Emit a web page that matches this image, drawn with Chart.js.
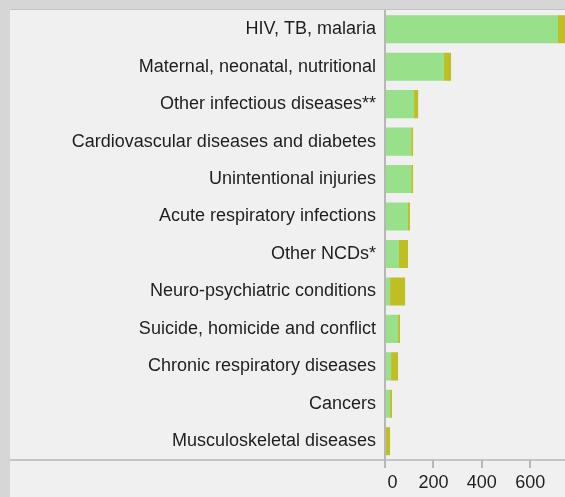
<!DOCTYPE html>
<html>
<head>
<meta charset="utf-8">
<script src="https://cdn.jsdelivr.net/npm/chart.js@4.4.1/dist/chart.umd.min.js"></script>
<style>
  html, body { margin: 0; padding: 0; width: 565px; height: 497px; overflow: hidden; background: #d6d6d6; }
  #panel { position: absolute; left: 10px; top: 9px; width: 640px; height: 500px; background: #f0f0f0; border-top: 1px solid #c4c4c4; }
  #chart { position: absolute; left: 0; top: 0; }
</style>
</head>
<body>
<div id="panel">
  <canvas id="chart" width="617" height="487"></canvas>
</div>
<script>
const categories = [
    "HIV, TB, malaria",
    "Maternal, neonatal, nutritional",
    "Other infectious diseases**",
    "Cardiovascular diseases and diabetes",
    "Unintentional injuries",
    "Acute respiratory infections",
    "Other NCDs*",
    "Neuro-psychiatric conditions",
    "Suicide, homicide and conflict",
    "Chronic respiratory diseases",
    "Cancers",
    "Musculoskeletal diseases"
];
// years of life lost (green) and years lived with disability (olive)
const yllValues = [715, 244, 120, 108, 108, 95, 58, 21, 54, 25, 21, 0];
const yldValues = [55, 29, 17, 8, 8, 8, 37, 62, 8, 29, 8, 21];
const xTicks = [0, 200, 400, 600];

const axisColor = "#b7b7b7";
const textColor = "#1e1e1e";
const fontFamily = "'Liberation Sans', Arial, sans-serif";

document.addEventListener("DOMContentLoaded", function () {
    const ctx = document.getElementById("chart").getContext("2d");

    // long baseline across the whole panel, under the labels too
    const baseLine = {
        id: "baseLine",
        afterDraw(chart) {
            const c = chart.ctx;
            c.save();
            c.strokeStyle = axisColor;
            c.lineWidth = 1.5;
            c.beginPath();
            c.moveTo(0, chart.chartArea.bottom);
            c.lineTo(chart.width, chart.chartArea.bottom);
            c.stroke();
            c.restore();
        }
    };

    new Chart(ctx, {
        type: "bar",
        data: {
            labels: categories,
            datasets: [{
                label: "YLL",
                data: yllValues,
                backgroundColor: "#98e08a",
                barPercentage: 0.75,
                categoryPercentage: 1
            }, {
                label: "YLD",
                data: yldValues,
                backgroundColor: "#bfbe22",
                barPercentage: 0.75,
                categoryPercentage: 1
            }]
        },
        options: {
            indexAxis: "y",
            responsive: false,
            animation: false,
            layout: { padding: { top: 0.5, right: 0, bottom: 0, left: 0 } },
            plugins: {
                legend: { display: false },
                tooltip: { enabled: false }
            },
            scales: {
                x: {
                    stacked: true,
                    min: 0,
                    max: 1000,
                    afterBuildTicks(scale) {
                        scale.ticks = xTicks.map(v => ({ value: v }));
                    },
                    afterFit(scale) {
                        scale.height = 37;
                        scale.paddingLeft = 0;
                        scale.paddingRight = 0;
                    },
                    grid: {
                        display: true,
                        drawOnChartArea: false,
                        drawTicks: true,
                        tickLength: 8,
                        color: axisColor,
                        lineWidth: 2
                    },
                    border: { display: false },
                    ticks: {
                        padding: 4,
                        maxRotation: 0,
                        autoSkip: false,
                        color: textColor,
                        font: { family: fontFamily, size: 18 },
                        callback: v => v === 0 ? "   0" : String(v)
                    }
                },
                y: {
                    stacked: true,
                    afterFit(scale) {
                        scale.width = 375;
                        scale.paddingTop = 0;
                        scale.paddingBottom = 0;
                    },
                    grid: { display: false, drawTicks: false },
                    border: { display: true, color: axisColor, width: 2 },
                    ticks: {
                        padding: 9,
                        autoSkip: false,
                        color: textColor,
                        font: { family: fontFamily, size: 18 }
                    }
                }
            }
        },
        plugins: [baseLine]
    });
});
</script>
</body>
</html>
